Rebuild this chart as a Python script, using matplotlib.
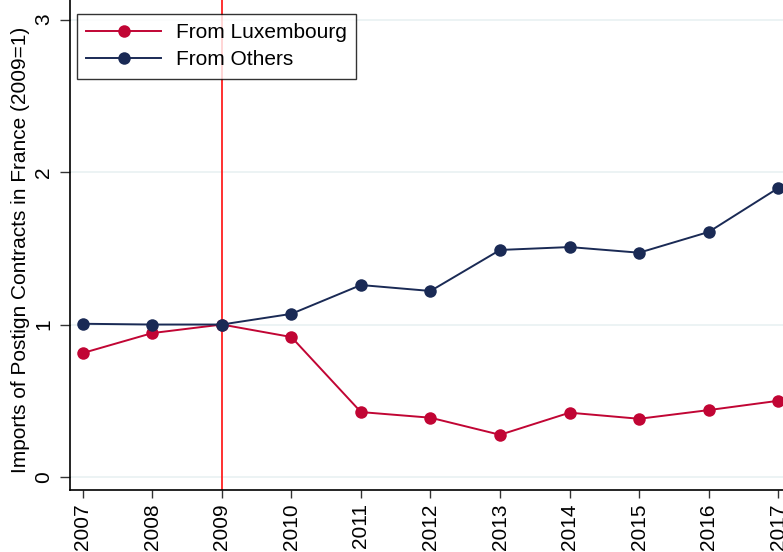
import matplotlib
matplotlib.use("Agg")
import matplotlib.pyplot as plt

plt.rcParams["font.family"] = ["Liberation Sans", "DejaVu Sans"]

years = [2007, 2008, 2009, 2010, 2011, 2012, 2013, 2014, 2015, 2016, 2017]
from_luxembourg = [0.813, 0.944, 1.0, 0.918, 0.426, 0.389, 0.277, 0.422, 0.382, 0.439, 0.500]
from_others = [1.005, 1.000, 1.0, 1.070, 1.259, 1.220, 1.489, 1.508, 1.471, 1.607, 1.895]
year_labels = [str(y) for y in years]
y_ticks = [0, 1, 2, 3]
reform_year = 2009

red = "#C10534"
navy = "#1A2A55"
grid_col = "#EAF2F3"

fig = plt.figure(figsize=(7.83, 5.52), dpi=100)
ax = fig.add_axes([70 / 783, 1 - 490 / 552, 1 - 70 / 783, 490 / 552])

for yv in y_ticks:
    ax.axhline(yv, color=grid_col, lw=1.3, zorder=0)

ax.axvline(reform_year, color="#FF2020", lw=1.3, zorder=1)

ax.plot(years, from_luxembourg, color=red, lw=1.4, marker="o", ms=9,
        markeredgewidth=0, label="From Luxembourg", zorder=3)
ax.plot(years, from_others, color=navy, lw=1.4, marker="o", ms=9,
        markeredgewidth=0, label="From Others", zorder=4)

ax.set_xlim(2006.817, 2017.068)
ax.set_ylim(-0.085, 3.128)

ax.set_xticks(years)
ax.set_xticklabels(year_labels, rotation=90, fontsize=15)
ax.set_yticks(y_ticks)
ax.set_yticklabels([str(t) for t in y_ticks], rotation=90, va="center", fontsize=15)
ax.tick_params(axis="x", direction="out", length=6, width=1, color="#333333", pad=3.5)
ax.tick_params(axis="y", direction="out", length=7, width=1, color="#333333", pad=5)

ax.set_ylabel("Imports of Postign Contracts in France (2009=1)", fontsize=15)
ax.yaxis.set_label_coords(-40 / 713, 0.49)

for side in ["top", "right"]:
    ax.spines[side].set_visible(False)
for side in ["left", "bottom"]:
    ax.spines[side].set_linewidth(1.2)
    ax.spines[side].set_color("black")

leg = ax.legend(loc="upper left", bbox_to_anchor=(7 / 713, 1 - 14 / 490),
                fontsize=15, frameon=True, fancybox=False, borderpad=0.45,
                handlelength=3.6, handletextpad=0.7, labelspacing=0.38,
                borderaxespad=0)
leg.get_frame().set_edgecolor("black")
leg.get_frame().set_linewidth(1.0)

fig.savefig("out.png", dpi=100)
